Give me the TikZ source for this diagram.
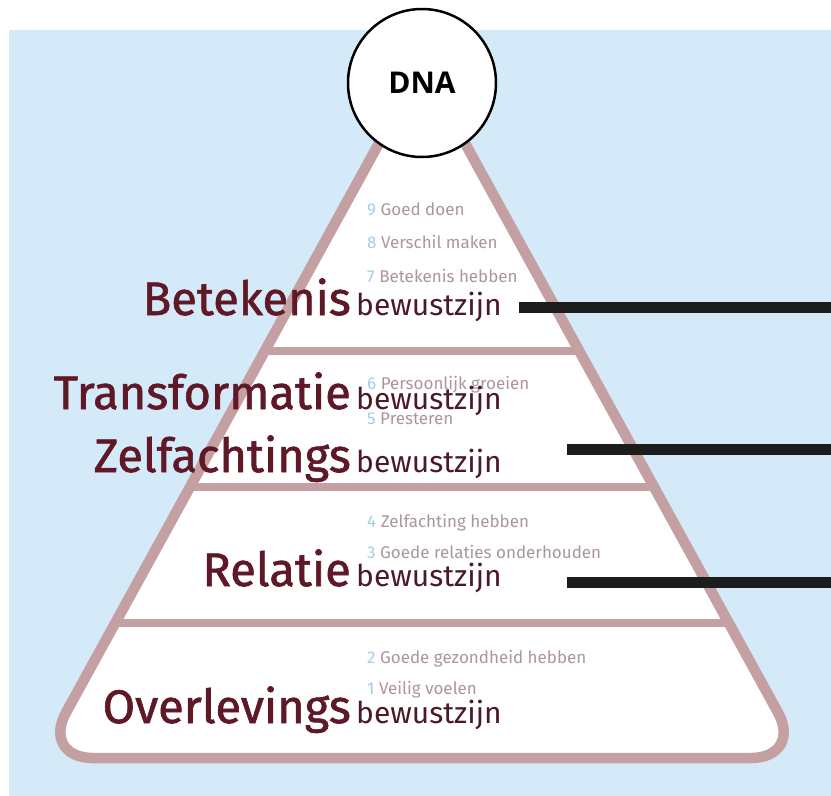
\documentclass[tikz,border=0pt]{standalone}
\usepackage{fontspec}
\setmainfont{Fira Sans}
\newfontfamily\bigfont[FakeBold=1.3]{Fira Sans}
\newfontfamily\dnafont{Open Sans}
\definecolor{skyBlue}{RGB}{213, 234, 249}
\definecolor{pyrRose}{RGB}{196, 160, 163}
\definecolor{wineRed}{RGB}{94, 24, 38}
\definecolor{wineDark}{RGB}{76, 26, 36}
\definecolor{motiveGrey}{RGB}{172, 150, 157}
\definecolor{numBlue}{RGB}{162, 206, 232}
\definecolor{barBlack}{RGB}{28, 28, 28}

\begin{document}
\begin{tikzpicture}[
    x=1pt, y=-1pt,
    bigword/.style={anchor=base east, inner sep=0pt, text=wineRed,
        font=\bigfont\fontsize{47}{47}\selectfont},
    suffix/.style={anchor=base west, inner sep=0pt, text=wineDark,
        font=\fontsize{30}{30}\selectfont},
    motive/.style={anchor=base west, inner sep=0pt, text=motiveGrey,
        font=\fontsize{17}{17}\selectfont},
    divider/.style={draw=pyrRose, line width=8pt},
    levelbar/.style={draw=barBlack, line width=11pt}
]
\useasboundingbox (0,0) rectangle (831,796);
\fill[skyBlue] (9,30) rectangle (831,796);

% pyramid
\def\pyrpath{(422,758) -- (803,758) -- (422,65) -- (41,758) -- cycle}
\fill[white, rounded corners=52pt] \pyrpath;
\begin{scope}
    \clip[rounded corners=52pt] \pyrpath;
    \draw[divider] (0,351) -- (831,351);
    \draw[divider] (0,487) -- (831,487);
    \draw[divider] (0,623) -- (831,623);
\end{scope}
\draw[pyrRose, line width=10.5pt, rounded corners=52pt] \pyrpath;

% top
\node[circle, draw, line width=2.5pt, fill=white, minimum size=148pt,
      font=\dnafont\bfseries\fontsize{30}{30}\selectfont] (dna) at (422,83) {DNA};

% motives
\node[motive] (m9) at (367,215) {{\color{numBlue}9} Goed doen};
\node[motive] (m8) at (367,248) {{\color{numBlue}8} Verschil maken};
\node[motive] (m7) at (367,282) {{\color{numBlue}7} Betekenis hebben};
\node[motive] (m6) at (367,389) {{\color{numBlue}6} Persoonlijk groeien};
\node[motive] (m5) at (367,424) {{\color{numBlue}5} Presteren};
\node[motive] (m4) at (367,527) {{\color{numBlue}4} Zelfachting hebben};
\node[motive] (m3) at (367,558) {{\color{numBlue}3} Goede relaties onderhouden};
\node[motive] (m2) at (367,663) {{\color{numBlue}2} Goede gezondheid hebben};
\node[motive] (m1) at (367,694) {{\color{numBlue}1} Veilig voelen};

% levels
\node[bigword] (betekenis) at (351,315) {Betekenis};
\node[suffix] (bwBetekenis) at (356,315) {bewustzijn};
\node[bigword] (transformatie) at (351,409) {Transformatie};
\node[suffix] (bwTransformatie) at (356,409) {bewustzijn};
\node[bigword] (zelfachtings) at (351,472) {Zelfachtings};
\node[suffix] (bwZelfachtings) at (356,472) {bewustzijn};
\node[bigword] (relatie) at (351,586) {Relatie};
\node[suffix] (bwRelatie) at (356,586) {bewustzijn};
\node[bigword] (overlevings) at (351,723) {Overlevings};
\node[suffix] (bwOverlevings) at (356,723) {bewustzijn};

% bars
\coordinate (barA) at (519,307);
\coordinate (barAend) at (831,307);
\coordinate (barB) at (567,449);
\coordinate (barBend) at (831,449);
\coordinate (barC) at (567,582);
\coordinate (barCend) at (831,582);
\draw[levelbar] (barA) -- (barAend);
\draw[levelbar] (barB) -- (barBend);
\draw[levelbar] (barC) -- (barCend);
\end{tikzpicture}
\end{document}
